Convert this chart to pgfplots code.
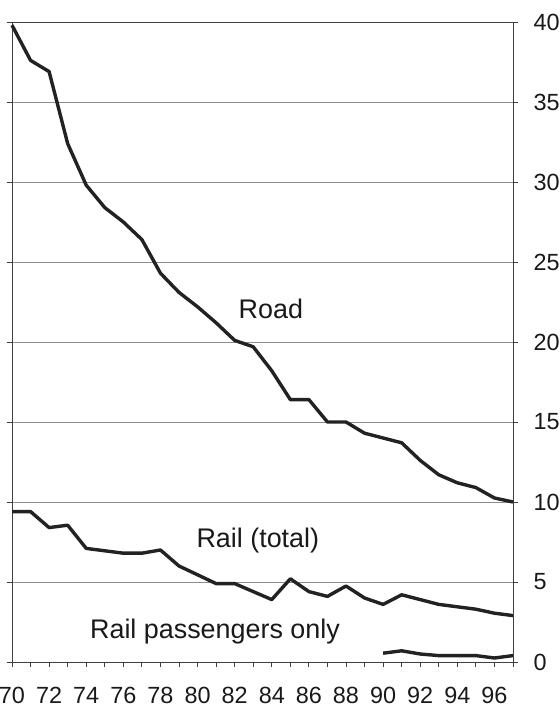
\documentclass[border=0pt]{standalone}
\usepackage{pgfplots}
\pgfplotsset{compat=1.18}
\usepackage{fontspec}
\setmainfont{Liberation Sans}
\definecolor{ln}{HTML}{222222}
\begin{document}
\begin{tikzpicture}
\begin{axis}[name=ax,
  scale only axis, width=501bp, height=640bp,
  xmin=70, xmax=97, ymin=0, ymax=40,
  axis line style={draw=black!75, line width=0.8bp},
  xtick={70,72,...,96}, minor xtick={71,73,...,97},
  ytick={0,5,...,40},
  yticklabel pos=right,
  ymajorgrids, grid style={draw=black!45, line width=0.7bp},
  tick align=outside, major tick length=5bp, minor tick length=5bp,
  tick style={draw=black!75, line width=0.8bp},
  xtick pos=bottom,
  /pgf/number format/assume math mode=true,
  ticklabel style={font=\fontsize{23.5}{23.5}\selectfont, text=black!90},
  xticklabel style={anchor=north, yshift=-17bp},
  yticklabel style={anchor=west, xshift=12bp},
  clip=false,
]
\addplot[ln, line width=3.4bp, line join=round] coordinates {
(70,39.8)(71,37.6)(72,36.9)(73,32.4)(74,29.8)(75,28.4)(76,27.5)(77,26.4)(78,24.3)(79,23.1)(80,22.2)(81,21.2)(82,20.1)(83,19.7)(84,18.2)(85,16.4)(86,16.4)(87,15.0)(88,15.0)(89,14.3)(90,14.0)(91,13.7)(92,12.6)(93,11.7)(94,11.2)(95,10.9)(96,10.25)(97,10.0)};
\addplot[ln, line width=3.4bp, line join=round] coordinates {
(70,9.4)(71,9.4)(72,8.4)(73,8.55)(74,7.1)(75,6.95)(76,6.8)(77,6.8)(78,7.0)(79,6.0)(80,5.45)(81,4.9)(82,4.9)(83,4.4)(84,3.9)(85,5.2)(86,4.4)(87,4.1)(88,4.75)(89,4.0)(90,3.6)(91,4.2)(92,3.9)(93,3.6)(94,3.45)(95,3.3)(96,3.05)(97,2.9)};
\addplot[ln, line width=3.4bp, line join=round] coordinates {
(90,0.55)(91,0.7)(92,0.5)(93,0.4)(94,0.4)(95,0.4)(96,0.25)(97,0.4)};
\node[font=\fontsize{27}{27}\selectfont, text=black!90] at (axis cs:83.95,22.1) {Road};
\node[font=\fontsize{27}{27}\selectfont, text=black!90] at (axis cs:83.25,7.6) {Rail (total)};
\node[font=\fontsize{27}{27}\selectfont, text=black!90] at (axis cs:80.94,1.9) {Rail passengers only};
\end{axis}
\pgfresetboundingbox
\path (ax.south west) ++(-12bp,-45bp) coordinate (bl);
\path (ax.north east) ++(47bp,22bp) coordinate (tr);
\useasboundingbox (bl) rectangle (tr);
\end{tikzpicture}
\end{document}
